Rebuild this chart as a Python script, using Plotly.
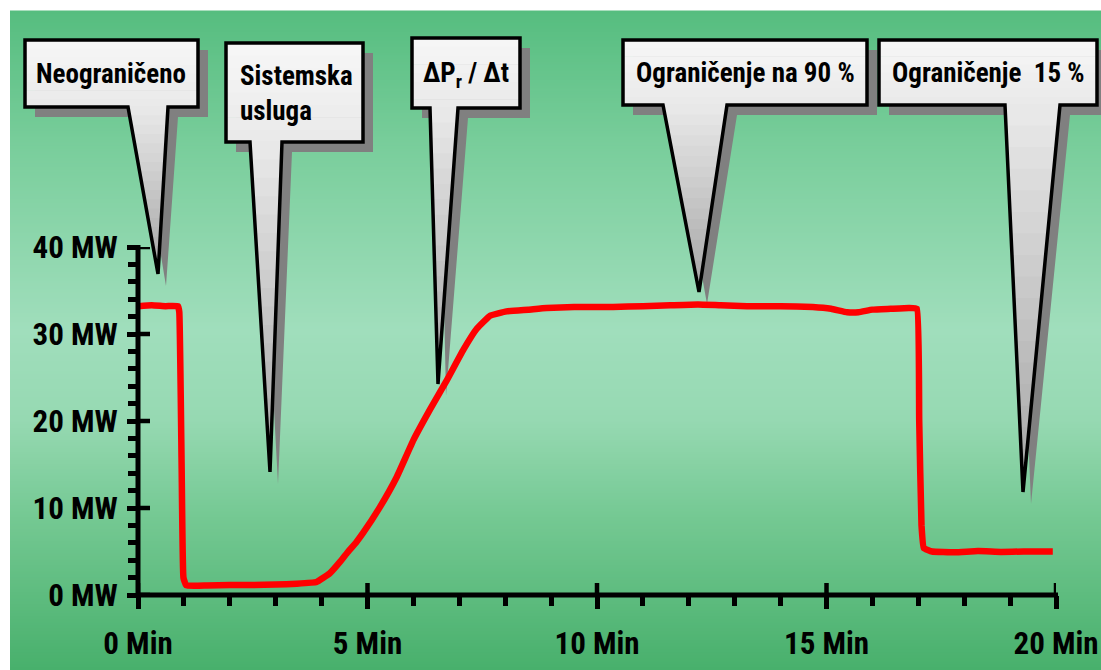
import plotly.graph_objects as go

# ---------------- data ----------------
time_min = [0.0, 0.3, 0.6, 0.87, 0.90, 0.95, 0.99, 1.05, 1.5, 2.0, 2.5, 3.0, 3.46, 3.89,
            4.18, 4.40, 4.55, 4.76, 4.9, 5.27, 5.64, 6.0, 6.36, 6.73, 7.09, 7.38, 7.67,
            8.03, 8.5, 8.9, 9.5, 10.35, 11.0, 11.6, 12.2, 12.7, 13.27, 14.0, 14.7, 15.1,
            15.45, 15.7, 16.0, 16.4, 16.8, 16.97, 17.02, 17.07, 17.12, 17.3, 17.8, 18.3,
            18.8, 19.3, 19.93]
power_mw = [33.2, 33.3, 33.2, 33.2, 32.5, 15.0, 2.0, 1.1, 1.1, 1.15, 1.15, 1.2, 1.3, 1.5,
            2.5, 3.8, 4.8, 6.1, 7.1, 10.1, 13.6, 17.8, 21.3, 24.7, 28.2, 30.6, 32.1,
            32.6, 32.8, 33.0, 33.1, 33.1, 33.2, 33.3, 33.4, 33.3, 33.2, 33.2, 33.1, 32.9,
            32.5, 32.5, 32.8, 32.9, 33.0, 32.9, 20.0, 8.0, 5.4, 5.0, 4.9, 5.05, 4.95,
            5.0, 5.0]

y_tickvals = [0, 10, 20, 30, 40]
y_ticktext = ["0 MW", "10 MW", "20 MW", "30 MW", "40 MW"]
x_tickvals = [0, 5, 10, 15, 20]
x_ticktext = ["0 Min", "5 Min", "10 Min", "15 Min", "20 Min"]

callout_texts = ["Neograničeno", "Sistemska<br>usluga", "ΔP<sub>r</sub> / Δt",
                 "Ograničenje na 90 %", "Ograničenje\u00a0 15 %"]

# ---------------- layout geometry (pixels) ----------------
W, H = 1101, 670
L, R, T, B = 138, 1056, 247, 595


def px(x):
    return (x - L) / (R - L)


def py(y):
    return (B - y) / (B - T)


FONT = "Liberation Sans Narrow, Arial Narrow, Roboto Condensed, DejaVu Sans Condensed, sans-serif"

shapes = []

# background gradient (stripes)
bg_stops = [(11, (86, 189, 127)), (150, (122, 206, 156)), (330, (160, 222, 188)),
            (420, (150, 217, 178)), (520, (116, 200, 146)), (670, (72, 176, 108))]


def bg_color(y):
    for (y0, c0), (y1, c1) in zip(bg_stops[:-1], bg_stops[1:]):
        if y0 <= y <= y1:
            f = (y - y0) / (y1 - y0)
            return "rgb(%d,%d,%d)" % tuple(round(a + (b - a) * f) for a, b in zip(c0, c1))
    return "rgb(%d,%d,%d)" % bg_stops[-1][1]


step = 3
y = 11
while y < H:
    y2 = min(y + step, H)
    shapes.append(dict(type="rect", xref="paper", yref="paper", layer="below",
                       x0=px(10), x1=px(W + 2), y0=py(y - 0.5), y1=py(y2 + 0.5),
                       fillcolor=bg_color((y + y2) / 2), line=dict(width=0)))
    y = y2

# callouts: box (x0,y0,x1,y1), pointer base (bl, br), tip (tx, ty)
callouts = [
    dict(box=(25, 40, 198, 107), base=(128, 168), tip=(158, 274)),
    dict(box=(226, 43, 363, 142), base=(250, 282), tip=(270, 472)),
    dict(box=(412, 38, 520, 108), base=(430, 458), tip=(438, 384)),
    dict(box=(623, 40, 867, 105), base=(663, 727), tip=(699, 292)),
    dict(box=(879, 40, 1097, 105), base=(1005, 1060), tip=(1023, 492)),
]


def poly_path(pts):
    return "M " + " L ".join("%.5f,%.5f" % (px(a), py(b)) for a, b in pts) + " Z"


def outline(c, dx=0, dy=0, tdx=0, tdy=0):
    x0, y0, x1, y1 = c["box"]
    bl, br = c["base"]
    tx, ty = c["tip"]
    return [(x0 + dx, y0 + dy), (x1 + dx, y0 + dy), (x1 + dx, y1 + dy), (br + dx, y1 + dy),
            (tx + tdx, ty + tdy), (bl + dx, y1 + dy), (x0 + dx, y1 + dy)]


def pointer_edges(c, yy):
    y1 = c["box"][3]
    bl, br = c["base"]
    tx, ty = c["tip"]
    f = max(0.0, min(1.0, (yy - y1) / (ty - y1)))
    return bl + (tx - bl) * f, br + (tx - br) * f


def grey(v):
    v = round(v)
    return "rgb(%d,%d,%d)" % (v, v, v)


for c in callouts:
    # shadow
    shapes.append(dict(type="path", xref="paper", yref="paper", layer="below",
                       path=poly_path(outline(c, 10, 10, 8, 12)),
                       fillcolor="rgb(128,128,128)", line=dict(width=0)))
    x0, y0, x1, y1 = c["box"]
    tx, ty = c["tip"]
    # box gradient
    nb = 8
    for i in range(nb):
        ya = y0 + (y1 - y0) * i / nb
        yb = y0 + (y1 - y0) * (i + 1) / nb + 0.6
        shapes.append(dict(type="path", xref="paper", yref="paper", layer="below",
                           path=poly_path([(x0, ya), (x1, ya), (x1, yb), (x0, yb)]),
                           fillcolor=grey(247 - 14 * (i + 0.5) / nb), line=dict(width=0)))
    # pointer gradient
    npnt = 18
    for i in range(npnt):
        ya = y1 - 1 + (ty - y1 + 1) * i / npnt
        yb = min(y1 + (ty - y1) * (i + 1) / npnt + 0.6, ty)
        la, ra = pointer_edges(c, ya)
        lb, rb = pointer_edges(c, yb)
        shapes.append(dict(type="path", xref="paper", yref="paper", layer="below",
                           path=poly_path([(la, ya), (ra, ya), (rb, yb), (lb, yb)]),
                           fillcolor=grey(234 - 70 * (i + 0.5) / npnt), line=dict(width=0)))
    # outline
    shapes.append(dict(type="path", xref="paper", yref="paper", layer="below",
                       path=poly_path(outline(c)), fillcolor="rgba(0,0,0,0)",
                       line=dict(color="black", width=3.5)))

# axis lines
AXW = 5
shapes.append(dict(type="line", xref="paper", yref="paper", layer="above",
                   x0=0, x1=0, y0=py(B + 2), y1=py(T - 2), line=dict(color="black", width=AXW)))
shapes.append(dict(type="line", xref="paper", yref="paper", layer="above",
                   x0=px(L - 2), x1=px(R + 2), y0=0, y1=0, line=dict(color="black", width=AXW)))
# inner halves of the major ticks
for v in x_tickvals:
    shapes.append(dict(type="line", xref="x", yref="paper", layer="above",
                       x0=v, x1=v, y0=0, y1=py(B - 12), line=dict(color="black", width=4.5)))
for v in y_tickvals:
    shapes.append(dict(type="line", xref="paper", yref="y", layer="above",
                       x0=0, x1=px(L + 12), y0=v, y1=v, line=dict(color="black", width=4.5)))

# annotations (callout texts)
annotations = []
text_pos = [
    dict(x=111, y=74, xanchor="center"),
    dict(x=238, y=94, xanchor="left"),
    dict(x=466, y=75, xanchor="center"),
    dict(x=745, y=73, xanchor="center"),
    dict(x=988, y=73, xanchor="center"),
]
for txt, p in zip(callout_texts, text_pos):
    annotations.append(dict(text=txt, xref="paper", yref="paper", x=px(p["x"]), y=py(p["y"]),
                            xanchor=p["xanchor"], yanchor="middle", showarrow=False,
                            align="left" if p["xanchor"] == "left" else "center",
                            font=dict(family=FONT, size=27, color="black", weight="bold")))

fig = go.Figure()
fig.add_trace(go.Scatter(x=time_min, y=power_mw, mode="lines",
                         line=dict(color="rgb(255,0,0)", width=6.5, shape="spline", smoothing=0.3),
                         hoverinfo="skip", showlegend=False))

tickfont = dict(family=FONT, size=31, color="black", weight="bold")
fig.update_layout(
    width=W, height=H, autosize=False,
    margin=dict(l=L, r=W - R, t=T, b=H - B, pad=0, autoexpand=False),
    paper_bgcolor="white", plot_bgcolor="rgba(0,0,0,0)",
    showlegend=False,
    xaxis=dict(range=[0, 20], showgrid=False, zeroline=False, showline=False,
               automargin=False,
               tickvals=x_tickvals, ticktext=x_ticktext, ticks="outside", ticklen=13,
               tickwidth=4.5, tickcolor="black", tickfont=tickfont, ticklabelstandoff=8,
               minor=dict(dtick=1, tick0=0, ticks="outside", ticklen=10, tickwidth=4.5,
                          tickcolor="black", showgrid=False),
               fixedrange=True),
    yaxis=dict(range=[0, 40], showgrid=False, zeroline=False, showline=False,
               automargin=False,
               tickvals=y_tickvals, ticktext=y_ticktext, ticks="outside", ticklen=10,
               tickwidth=4.5, tickcolor="black", tickfont=tickfont, ticklabelstandoff=3,
               minor=dict(dtick=2, tick0=0, ticks="outside", ticklen=9, tickwidth=4.5,
                          tickcolor="black", showgrid=False),
               fixedrange=True),
    shapes=shapes,
    annotations=annotations,
)

fig.write_html("out.html", config={"displayModeBar": False},
               post_script="document.body.style.margin='0';document.body.style.overflow='hidden';")
